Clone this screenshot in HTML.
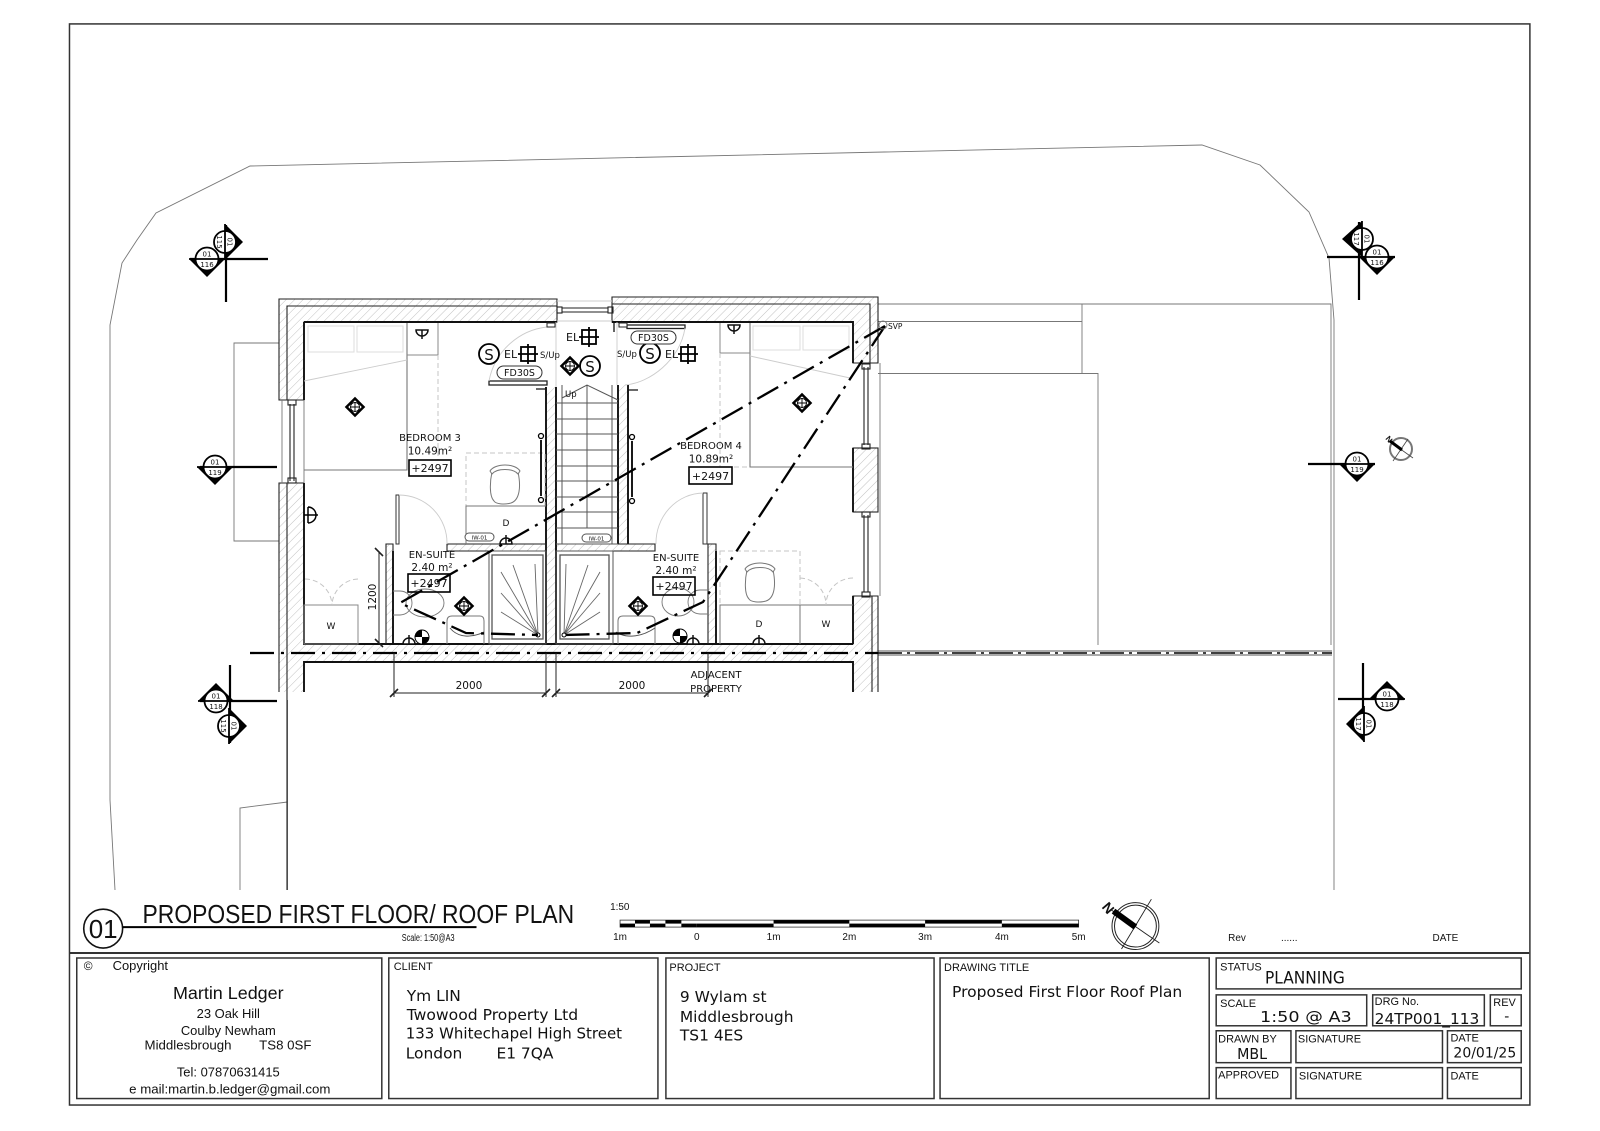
<!DOCTYPE html>
<html><head><meta charset="utf-8"><style>
html,body{margin:0;padding:0;background:#fff}
svg{display:block}
text{font-family:"Liberation Sans",sans-serif;fill:#111}
.d{font-family:"DejaVu Sans","Liberation Sans",sans-serif}
.b{fill:none;stroke:#333;stroke-width:1.5}
.w{stroke:#111;stroke-width:1.9;fill:none}
.t{stroke:#222;stroke-width:1.1;fill:none}
.g{stroke:#777;stroke-width:.9;fill:none}
.l{stroke:#ccc;stroke-width:.9;fill:none}
.ld{stroke:#c4c4c4;stroke-width:1;fill:none;stroke-dasharray:5 3}
.dr{stroke:#000;stroke-width:2.3;fill:none;stroke-dasharray:24 7 3 7}
.m{stroke:#000;stroke-width:2.2;fill:none}
</style></head><body>
<svg width="1600" height="1131" viewBox="0 0 1600 1131" xmlns="http://www.w3.org/2000/svg">
<defs>
<pattern id="h" width="6" height="6" patternUnits="userSpaceOnUse" patternTransform="rotate(45)"><line x1="0" y1="0" x2="0" y2="6" stroke="#c2c2c2" stroke-width="1"/></pattern>
<g id="dia"><path d="M0-8.500L8.500 0 0 8.500-8.500 0Z" fill="#fff" stroke="#000" stroke-width="2.500"/><circle r="4.500" fill="none" stroke="#000" stroke-width=".9"/><path d="M-5 0H5M0-5V5" stroke="#000" stroke-width=".9"/></g>
<g id="crs"><rect x="-7" y="-7" width="14" height="14" fill="none" stroke="#000" stroke-width="1.800"/><path d="M-10 0H10M0-10V10" stroke="#000" stroke-width="1.800"/></g>
<g id="chair"><path d="M-13-14C-13-19 13-19 13-14 16 0 15 14 6 17-1 19-9 18-11 15-16 10-15-5-13-14Z" fill="#fff" stroke="#777" stroke-width="1"/><path d="M-15-15C-10-23 10-23 15-15L13-12C8-18-8-18-13-12Z" fill="#fff" stroke="#777" stroke-width="1"/></g>
<g id="sink"><path d="M-6 0A6 6 0 0 1 6 0Z" fill="#fff" stroke="#111" stroke-width="1.500"/><path d="M0-9V0" stroke="#111" stroke-width="1.500"/></g>
<g id="ball"><circle r="7" fill="#fff" stroke="#000" stroke-width="1"/><path d="M0 0V-7A7 7 0 0 0-7 0ZM0 0V7A7 7 0 0 0 7 0Z" fill="#000"/></g>
</defs>
<rect width="1600" height="1131" fill="#fff"/>

<!-- site outline -->
<path d="M115 890L110 800V325L122 263 137 240 156 213 250 166 1202 145 1260 165 1309 212 1329 258 1334 320V890" class="g"/>
<path d="M287.500 700V890M287.500 802L240 808V890" class="g"/>
<path d="M279 343H234V541H279" class="g"/>
<path d="M878 304H1331V645M878 321.500H1082M1082 304V373.500M878 373.500H1098V645" class="g"/>
<path d="M878 651H1332M878 655H1332" stroke="#555" stroke-width=".9" fill="none"/>

<!-- hatched walls -->
<g fill="url(#h)" stroke="none">
<path d="M279 299H557V322H304V400H279Z"/>
<path d="M612 297H878V363H853V322H612Z"/>
<path d="M279 483H304V644H853V596H878V692H853V662H304V692H279Z"/>
<rect x="853" y="448" width="25" height="64"/>
<rect x="546" y="387" width="10" height="257"/>
<rect x="618" y="385" width="10" height="159"/>
<rect x="447" y="544" width="99" height="7"/>
<rect x="556" y="544" width="99" height="7"/>
<rect x="386" y="544" width="7" height="100"/>
<rect x="708" y="544" width="8" height="100"/>
</g>
<path d="M279 400V299H557V322H304V400Z" class="t" stroke-width="1.500"/>
<path d="M304 322V400M304 322H557" class="w"/>
<path d="M287 400V306H557" class="t"/>
<path d="M878 363V297H612V322H853V363Z" class="t" stroke-width="1.500"/>
<path d="M612 322H853V363" class="w"/>
<path d="M870 363V304H612" class="t"/>
<path d="M279 692V483H304" class="t"/>
<path d="M287 483V890" class="t"/>
<path d="M304 483V644H853V596H878V692M872 596V692M853 596V644" class="t"/>
<path d="M304 483V644H853" class="w"/>
<path d="M853 596V644" class="w"/>
<path d="M304 692V662H853V692" class="w"/>
<rect x="853" y="448" width="25" height="64" class="t"/>
<path d="M853 448V512" class="w"/>
<path d="M546 387V644M556 387V644" class="w"/>
<path d="M618 385V544M628 385V544" class="w"/>
<path d="M447 544H546V551H447ZM556 551H655V544H556" class="t"/>
<path d="M386 644V544H393V644" class="t"/>
<path d="M708 644V544H716V644" class="t"/>
<path d="M393 644V551" class="w"/><path d="M716 644V551" class="w"/>

<!-- windows -->
<g>
<path d="M282 400V483M304 400V483M880 363V596" class="g"/>
<path d="M290 404V481M294 404V481" class="t"/><rect x="288" y="400" width="8" height="5" class="t" fill="#fff"/><rect x="288" y="478" width="8" height="5" class="t" fill="#fff"/>
<path d="M864 367V445M868 367V445" class="t"/><rect x="862" y="364" width="8" height="5" class="t" fill="#fff"/><rect x="862" y="444" width="8" height="5" class="t" fill="#fff"/>
<path d="M864 515V592M868 515V592" class="t"/><rect x="862" y="512" width="8" height="5" class="t" fill="#fff"/><rect x="862" y="592" width="8" height="5" class="t" fill="#fff"/>
<path d="M557 301H612M557 321H612" class="l"/>
<path d="M562 308H608M562 312H608" class="t"/><rect x="557" y="307" width="5" height="6" class="t" fill="#fff"/><rect x="608" y="307" width="5" height="6" class="t" fill="#fff"/>
<path d="M556 322V387M617 322V385" class="l"/>
</g>

<!-- furniture bedroom 3 -->
<path d="M407 323V470H304" stroke="#777" stroke-width="1.100" fill="none"/>
<rect x="308" y="326" width="46" height="26" stroke="#ddd" fill="none"/><rect x="357" y="326" width="46" height="26" stroke="#ddd" fill="none"/>
<path d="M304 381L407 360" class="l"/>
<path d="M407 355H438V323" stroke="#888" fill="none"/>
<path d="M438 355V465" class="ld"/>
<use href="#sink" transform="translate(422 330) rotate(180)"/>
<rect x="466" y="453" width="79" height="53" class="ld"/>
<path d="M466 544V506H546" stroke="#777" fill="none"/>
<use href="#chair" x="505" y="486"/>
<path d="M541 440V496" stroke="#000" stroke-width="1.800"/><circle cx="541" cy="436" r="2.500" fill="#fff" stroke="#000" stroke-width="1.300"/><circle cx="541" cy="500" r="2.500" fill="#fff" stroke="#000" stroke-width="1.300"/>
<rect x="396" y="495" width="3" height="49" fill="#fff" stroke="#333"/>
<path d="M399 495A48 48 0 0 1 447 544" class="l"/>
<rect x="489" y="381" width="58" height="4" fill="#fff" stroke="#222" stroke-width="1.300"/>
<path d="M489 381C495 350 520 330 547 327" class="l"/>
<path d="M536 389H546M546 387V394" stroke="#111" stroke-width="1.300" fill="none"/>
<path d="M547 323H555V327H547Z" fill="#fff" stroke="#222"/>
<path d="M304 515H318M308 507V523M308 507A8 8 0 0 1 308 523" stroke="#000" stroke-width="1.500" fill="none"/>

<!-- wardrobes -->
<rect x="304" y="605" width="54" height="39" stroke="#888" fill="none"/>
<path d="M305 579A27 27 0 0 1 332 605M358 579A27 27 0 0 0 332 605" class="ld"/>
<text x="331" y="629" font-size="9" text-anchor="middle" class="d">W</text>
<rect x="720" y="551" width="80" height="54" class="ld"/>
<path d="M720 644V605H853M800 605V644" stroke="#777" fill="none"/>
<use href="#chair" x="760" y="584"/>
<path d="M800 578A27 27 0 0 1 826 605M853 578A27 27 0 0 0 826 605" class="ld"/>
<text x="826" y="627" font-size="9" text-anchor="middle" class="d">W</text>
<text x="759" y="627" font-size="9" text-anchor="middle" class="d">D</text>
<use href="#sink" x="759" y="644"/>
<text x="506" y="526" font-size="9" text-anchor="middle" class="d">D</text>
<use href="#sink" x="506" y="544"/>

<!-- bedroom 4 -->
<path d="M750 323V467H853" stroke="#777" stroke-width="1.100" fill="none"/>
<rect x="753" y="326" width="47" height="24" stroke="#ddd" fill="none"/><rect x="803" y="326" width="46" height="24" stroke="#ddd" fill="none"/>
<path d="M750 356L850 378" class="l"/>
<path d="M750 353H720V323" stroke="#888" fill="none"/>
<path d="M720 353V467H750" class="ld"/>
<use href="#sink" transform="translate(734 325) rotate(180)"/>
<path d="M632 441V497" stroke="#000" stroke-width="1.800"/><circle cx="632" cy="437" r="2.500" fill="#fff" stroke="#000" stroke-width="1.300"/><circle cx="632" cy="501" r="2.500" fill="#fff" stroke="#000" stroke-width="1.300"/>
<rect x="703" y="493" width="4" height="51" fill="#fff" stroke="#333"/>
<path d="M703 493A48 50 0 0 0 656 544" class="l"/>
<rect x="627" y="325" width="58" height="3.500" fill="#fff" stroke="#222" stroke-width="1.300"/>
<path d="M685 328C680 360 650 383 625 385" class="l"/>
<path d="M628 390H638M614 322V332" stroke="#111" stroke-width="1.300" fill="none"/>
<path d="M619 323H627V327H619Z" fill="#fff" stroke="#222"/>

<!-- stairs -->
<g stroke="#555" stroke-width="1" fill="none">
<path d="M556 403H618M556 419H618M556 434H618M556 450H618M556 466H618M556 481H618M556 497H618M556 512H618M556 528H618M556 544H618"/>
<path d="M562 385V544M587 385V528M612 385V544"/>
<path d="M562 398L587 385 618 400"/>
</g>
<text x="565" y="397" font-size="8.500" class="d">Up</text>

<!-- ensuites -->
<rect x="489" y="551" width="57" height="93" stroke="#555" fill="none"/>
<rect x="492" y="555" width="51" height="84" stroke="#555" stroke-width="1.300" fill="none"/>
<path d="M538 635L501 612M538 635L501 593M538 635L501 572M538 635L513 565M538 635L535 564M564 635L600 612M564 635L600 593M564 635L600 572M564 635L588 565M564 635L566 564" stroke="#666" stroke-width=".9" fill="none"/>
<rect x="556" y="551" width="57" height="93" stroke="#555" fill="none"/>
<rect x="560" y="555" width="49" height="84" stroke="#555" stroke-width="1.300" fill="none"/>
<circle cx="538" cy="635" r="2" fill="#fff" stroke="#000"/><circle cx="564" cy="635" r="2" fill="#fff" stroke="#000"/>
<path d="M447 644V621Q447 616 452 616H480Q484 616 484 621V644" stroke="#777" fill="none"/>
<path d="M450 628C458 638 472 638 484 632M616 632C625 638 640 638 655 628" stroke="#555" fill="none"/>
<path d="M618 644V621Q618 616 623 616H650Q655 616 655 621V644" stroke="#777" fill="none"/>
<ellipse cx="425" cy="603" rx="19" ry="14" class="g"/><path d="M393 591H400A12 12 0 0 1 400 615H393" class="g"/>
<ellipse cx="678" cy="602" rx="16" ry="14" class="g"/><path d="M708 590H700A12 12 0 0 0 700 614H708" class="g"/>
<use href="#dia" x="464" y="606"/><use href="#dia" x="638" y="606"/>
<use href="#ball" x="422" y="637"/><use href="#ball" x="680" y="636"/>
<use href="#sink" x="409" y="644"/><use href="#sink" x="693" y="644"/>

<!-- drain lines -->
<path d="M885 326L400 603 466 633 538 635" class="dr"/>
<path d="M885 326L703 602 637 633 564 635" class="dr"/>
<path d="M250 653H878" class="dr"/>
<path d="M878 653H1332" stroke="#000" stroke-width="1.500" fill="none" stroke-dasharray="24 5 3 5"/>
<circle cx="883" cy="325" r="4" class="g"/>
<text x="888" y="329" font-size="7.500" class="d">SVP</text>

<!-- ceiling symbols -->
<use href="#dia" x="355" y="407"/><use href="#dia" x="802" y="403"/><use href="#dia" x="570" y="366"/>
<use href="#crs" x="528" y="354"/><use href="#crs" x="589" y="337"/><use href="#crs" x="688" y="354"/>
<g fill="#fff" stroke="#000" stroke-width="1.800"><circle cx="489" cy="354" r="10"/><circle cx="590" cy="366" r="10"/><circle cx="650" cy="353" r="10"/></g>
<g text-anchor="middle">
<text x="489" y="360" class="d" font-size="15">S</text><text x="590" y="372" class="d" font-size="15">S</text><text x="650" y="359" class="d" font-size="15">S</text></g>
<g font-size="11"><text x="504" y="358" class="d">EL</text><text x="566" y="341" class="d">EL</text><text x="665" y="358" class="d">EL</text></g>
<g font-size="8.500"><text x="540" y="358" class="d">S/Up</text><text x="617" y="357" class="d">S/Up</text></g>
<rect x="497" y="366" width="45" height="13" rx="6.500" fill="#fff" stroke="#333"/><text x="519.500" y="376" font-size="9.500" text-anchor="middle" class="d">FD30S</text>
<rect x="631" y="331" width="45" height="13" rx="6.500" fill="#fff" stroke="#333"/><text x="653.500" y="341" font-size="9.500" text-anchor="middle" class="d">FD30S</text>
<rect x="465" y="533" width="29" height="8" rx="4" fill="#fff" stroke="#555"/><text x="479.500" y="539.500" font-size="5.500" text-anchor="middle" class="d">IW-01</text>
<rect x="582" y="534" width="29" height="8" rx="4" fill="#fff" stroke="#555"/><text x="596.500" y="540.500" font-size="5.500" text-anchor="middle" class="d">IW-01</text>

<!-- room labels -->
<g text-anchor="middle">
<text x="430" y="441" class="d" font-size="10">BEDROOM 3</text>
<text x="430" y="454.500" class="d" font-size="10.500">10.49m²</text>
<text x="711" y="449" class="d" font-size="10">BEDROOM 4</text>
<text x="711" y="462.500" class="d" font-size="10.500">10.89m²</text>
<text x="432" y="558" class="d" font-size="10">EN-SUITE</text>
<text x="432" y="571" class="d" font-size="10.500">2.40 m²</text>
<text x="676" y="561" class="d" font-size="10">EN-SUITE</text>
<text x="676" y="574" class="d" font-size="10.500">2.40 m²</text>
</g>
<g fill="#fff" stroke="#000" stroke-width="1.600">
<rect x="409" y="460" width="42" height="16"/><rect x="689" y="467" width="43" height="17"/>
</g>
<g fill="none" stroke="#000" stroke-width="1.600"><rect x="408" y="574" width="42" height="18"/><rect x="653" y="577" width="42" height="18"/></g>
<g font-size="11" text-anchor="middle">
<text x="430" y="472" class="d">+2497</text><text x="710.500" y="480" class="d">+2497</text>
<text x="429" y="587" class="d">+2497</text><text x="674" y="590" class="d">+2497</text></g>

<!-- dimensions -->
<g stroke="#222" stroke-width="1" fill="none">
<path d="M379 552V643M394 653V697M546 653V697M556 653V697M708 653V697M394 693H546M556 693H708"/>
<path d="M375 548L383 556M375 639L383 647" stroke-width="1.600"/>
<path d="M390 697L398 689M542 697L550 689M552 697L560 689M704 697L712 689" stroke-width="1.600"/>
</g>
<text x="469" y="689" font-size="10.500" text-anchor="middle" class="d">2000</text>
<text x="632" y="689" font-size="10.500" text-anchor="middle" class="d">2000</text>
<text transform="translate(376 597) rotate(-90)" font-size="10.500" text-anchor="middle" class="d">1200</text>
<text x="716" y="678" font-size="10" text-anchor="middle" class="d">ADJACENT</text>
<text x="716" y="692" font-size="10" text-anchor="middle" class="d">PROPERTY</text>

<!-- section markers -->
<g class="m">
<path d="M226 225V302M190 259H268"/>
<path d="M1359 222V300M1327 257H1395"/>
<path d="M1308 464H1375"/>
<path d="M200 467H277"/>
<path d="M230 665V743M200 701H277"/>
<path d="M1363 663V740M1338 699H1404"/>
</g>
<g text-anchor="middle">
<g transform="translate(207 259)"><path d="M-18 0L0 18 18 0Z" fill="#000"/><circle r="11.500" fill="#fff" stroke="#000" stroke-width="1.800"/><path d="M-18 0H18" stroke="#000" stroke-width="1.800"/><text y="-2.500" class="d" font-size="7">01</text><text y="8" class="d" font-size="7">116</text></g>
<g transform="translate(1377 257)"><path d="M-18 0L0 18 18 0Z" fill="#000"/><circle r="11.500" fill="#fff" stroke="#000" stroke-width="1.800"/><path d="M-18 0H18" stroke="#000" stroke-width="1.800"/><text y="-2.500" class="d" font-size="7">01</text><text y="8" class="d" font-size="7">116</text></g>
<g transform="translate(1357 464)"><path d="M-18 0L0 18 18 0Z" fill="#000"/><circle r="11.500" fill="#fff" stroke="#000" stroke-width="1.800"/><path d="M-18 0H18" stroke="#000" stroke-width="1.800"/><text y="-2.500" class="d" font-size="7">01</text><text y="8" class="d" font-size="7">119</text></g>
<g transform="translate(215 467)"><path d="M-18 0L0 18 18 0Z" fill="#000"/><circle r="11.500" fill="#fff" stroke="#000" stroke-width="1.800"/><path d="M-18 0H18" stroke="#000" stroke-width="1.800"/><text y="-2.500" class="d" font-size="7">01</text><text y="8" class="d" font-size="7">119</text></g>
<g transform="translate(1362 239) rotate(90)"><path d="M-18 0L0 20 18 0Z" fill="#000"/><circle r="11" fill="#fff" stroke="#000" stroke-width="1.800"/><path d="M-18 0H18" stroke="#000" stroke-width="1.800"/><text y="-2.500" class="d" font-size="7">01</text><text y="8" class="d" font-size="7">117</text></g>
<g transform="translate(1364 724) rotate(90)"><path d="M-18 0L0 18 18 0Z" fill="#000"/><circle r="11" fill="#fff" stroke="#000" stroke-width="1.800"/><path d="M-18 0H18" stroke="#000" stroke-width="1.800"/><text y="-2.500" class="d" font-size="7">01</text><text y="8" class="d" font-size="7">117</text></g>
<g transform="translate(216 701)"><path d="M-18 0L0-18 18 0Z" fill="#000"/><circle r="11.500" fill="#fff" stroke="#000" stroke-width="1.800"/><path d="M-18 0H18" stroke="#000" stroke-width="1.800"/><text y="-2.500" class="d" font-size="7">01</text><text y="8" class="d" font-size="7">118</text></g>
<g transform="translate(1387 699)"><path d="M-18 0L0-18 18 0Z" fill="#000"/><circle r="11.500" fill="#fff" stroke="#000" stroke-width="1.800"/><path d="M-18 0H18" stroke="#000" stroke-width="1.800"/><text y="-2.500" class="d" font-size="7">01</text><text y="8" class="d" font-size="7">118</text></g>
<g transform="translate(225 242) rotate(90)"><path d="M-18 0L0-18 18 0Z" fill="#000"/><circle r="11" fill="#fff" stroke="#000" stroke-width="1.800"/><path d="M-18 0H18" stroke="#000" stroke-width="1.800"/><text y="-2.500" class="d" font-size="7">01</text><text y="8" class="d" font-size="7">115</text></g>
<g transform="translate(229 726) rotate(90)"><path d="M-18 0L0-18 18 0Z" fill="#000"/><circle r="11" fill="#fff" stroke="#000" stroke-width="1.800"/><path d="M-18 0H18" stroke="#000" stroke-width="1.800"/><text y="-2.500" class="d" font-size="7">01</text><text y="8" class="d" font-size="7">115</text></g>
</g>
<!-- small north -->
<g transform="translate(1401 449)" fill="none">
<circle r="11" stroke="#777" stroke-width="2"/><path d="M-12-8L12 9M7-10L-8 12" stroke="#444" stroke-width=".8"/><path d="M-11-8L1 1" stroke="#000" stroke-width="3"/>
</g>
<text transform="translate(1387 441) rotate(50)" font-size="8" font-weight="bold" text-anchor="middle">N</text>

<!-- sheet furniture, scaled slightly to the reference frame -->
<g transform="scale(.99687)">
<rect x="69.700" y="24" width="1465" height="1084.500" class="b"/>
<line x1="69.700" y1="956" x2="1534" y2="956" stroke="#333" stroke-width="2"/>

<circle cx="103.500" cy="931.500" r="19.500" fill="#fff" stroke="#111" stroke-width="1.600"/>
<text x="103.500" y="941" font-size="26" text-anchor="middle" textLength="29" lengthAdjust="spacingAndGlyphs">01</text>
<line x1="123" y1="930" x2="478" y2="930" stroke="#000" stroke-width="2"/>
<text x="143" y="926" font-size="26" textLength="433" lengthAdjust="spacingAndGlyphs">PROPOSED FIRST FLOOR/ ROOF PLAN</text>
<text x="403" y="944" font-size="10" textLength="53" lengthAdjust="spacingAndGlyphs">Scale: 1:50@A3</text>

<text x="612" y="913" font-size="10">1:50</text>
<rect x="622" y="923" width="460" height="7" fill="#fff" stroke="#333" stroke-width=".8"/>
<g fill="#000">
<rect x="622" y="926.500" width="15" height="3.500"/><rect x="637" y="923" width="15" height="3.500"/><rect x="652" y="926.500" width="15.500" height="3.500"/><rect x="667.500" y="923" width="16" height="3.500"/><rect x="683.500" y="926.500" width="15.500" height="3.500"/>
<rect x="699" y="926.500" width="77" height="3.500"/><rect x="776" y="923" width="76" height="3.500"/><rect x="852" y="926.500" width="76" height="3.500"/><rect x="928" y="923" width="77" height="3.500"/><rect x="1005" y="926.500" width="77" height="3.500"/>
</g>
<g font-size="10" text-anchor="middle"><text x="622" y="943">1m</text><text x="699" y="943">0</text><text x="776" y="943">1m</text><text x="852" y="943">2m</text><text x="928" y="943">3m</text><text x="1005" y="943">4m</text><text x="1082" y="943">5m</text></g>

<g transform="translate(1139 929)" fill="none" stroke="#222">
<circle r="23.500" stroke-width="1"/><circle r="21" stroke-width="1"/>
<path d="M16-27L-14 23M-24-16L24 17" stroke-width=".9"/>
<path d="M-22-15L0 1" stroke="#000" stroke-width="6"/>
</g>
<text transform="translate(1108 914) rotate(50)" font-size="14" font-weight="bold" text-anchor="middle">N</text>

<text x="1232" y="944" font-size="10">Rev</text>
<text x="1285" y="944" font-size="10">......</text>
<text x="1437" y="944" font-size="10">DATE</text>

<g class="b" stroke-width="1.500">
<rect x="77" y="961" width="306" height="141"/>
<rect x="390" y="961" width="270" height="141"/>
<rect x="668" y="961" width="269" height="141"/>
<rect x="943" y="961" width="270" height="141"/>
<rect x="1220" y="961" width="306" height="31"/>
<rect x="1220" y="998" width="151" height="31"/>
<rect x="1377" y="998" width="112" height="31"/>
<rect x="1495" y="998" width="31" height="31"/>
<rect x="1220" y="1034" width="75" height="32"/>
<rect x="1300" y="1034" width="147" height="32"/>
<rect x="1452" y="1034" width="74" height="32"/>
<rect x="1220" y="1071" width="75" height="31"/>
<rect x="1300" y="1071" width="147" height="31"/>
<rect x="1452" y="1071" width="74" height="31"/>
</g>

<text x="84" y="973" font-size="12">©</text><text x="113" y="973" font-size="13">Copyright</text>
<g text-anchor="middle">
<text x="229" y="1002" font-size="18">Martin Ledger</text>
<text x="229" y="1021" font-size="13">23 Oak Hill</text>
<text x="229" y="1038" font-size="13">Coulby Newham</text>
<text x="229" y="1080" font-size="13">Tel: 07870631415</text>
<text x="230.500" y="1097" font-size="13.300">e mail:martin.b.ledger@gmail.com</text>
</g>
<text x="145" y="1053" font-size="13.300">Middlesbrough</text><text x="260" y="1053" font-size="13.300">TS8 0SF</text>

<g font-size="11"><text x="395" y="973">CLIENT</text><text x="671.500" y="974">PROJECT</text><text x="947" y="974">DRAWING TITLE</text></g>
<g font-size="15.500">
<text x="408" y="1004" class="d">Ym LIN</text>
<text x="408" y="1023" class="d" textLength="172" lengthAdjust="spacingAndGlyphs">Twowood Property Ltd</text>
<text x="407" y="1042" class="d" textLength="217" lengthAdjust="spacingAndGlyphs">133 Whitechapel High Street</text>
<text x="407" y="1062" class="d">London</text><text x="498" y="1062" class="d">E1 7QA</text>
<text x="682" y="1005" class="d">9 Wylam st</text>
<text x="682" y="1025" class="d" textLength="114" lengthAdjust="spacingAndGlyphs">Middlesbrough</text>
<text x="682" y="1044" class="d">TS1 4ES</text>
<text x="955" y="1000" class="d" textLength="231" lengthAdjust="spacingAndGlyphs">Proposed First Floor Roof Plan</text>
</g>

<g font-size="11">
<text x="1224" y="973.500">STATUS</text><text x="1224" y="1010">SCALE</text><text x="1379" y="1008">DRG No.</text><text x="1498" y="1009">REV</text>
<text x="1222" y="1046">DRAWN BY</text><text x="1302" y="1046">SIGNATURE</text><text x="1455" y="1045">DATE</text>
<text x="1222" y="1082">APPROVED</text><text x="1303" y="1083">SIGNATURE</text><text x="1455" y="1083">DATE</text>
</g>
<text x="1269" y="986.500" font-size="17" class="d" textLength="80" lengthAdjust="spacingAndGlyphs">PLANNING</text>
<text x="1264" y="1025" font-size="15.500" class="d" textLength="92" lengthAdjust="spacingAndGlyphs">1:50 @ A3</text>
<text x="1379" y="1027" font-size="15.500" class="d" textLength="105" lengthAdjust="spacingAndGlyphs">24TP001_113</text>
<text x="1509" y="1024" font-size="14" class="d">-</text>
<text x="1241" y="1062.500" font-size="15.500" class="d" textLength="30" lengthAdjust="spacingAndGlyphs">MBL</text>
<text x="1458" y="1061" font-size="14" class="d" textLength="63" lengthAdjust="spacingAndGlyphs">20/01/25</text>
</g>
</svg>
</body></html>
